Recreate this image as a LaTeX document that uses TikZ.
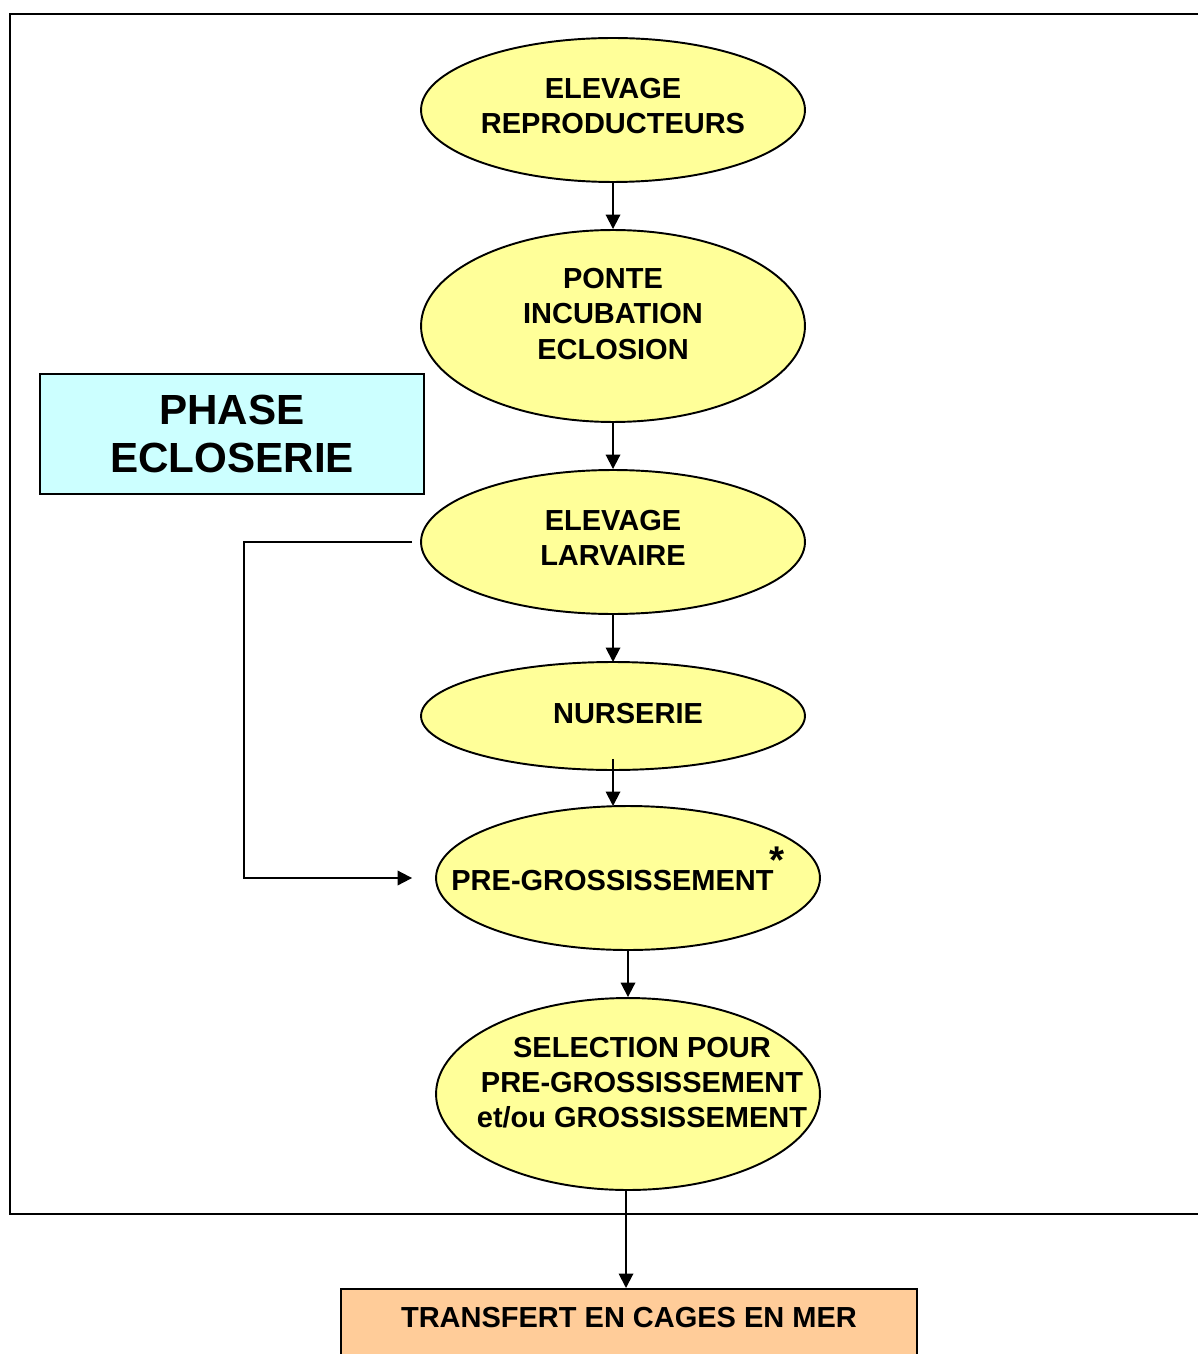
\documentclass[tikz,border=0pt]{standalone}
\usepackage{fontspec}
\setmainfont{Liberation Sans}
\usepackage{tikz}
\usetikzlibrary{shapes.geometric,arrows.meta}
\definecolor{stageYellow}{RGB}{255,255,153}
\definecolor{phaseCyan}{RGB}{204,255,255}
\definecolor{transferOrange}{RGB}{255,204,153}
\newcommand{\stageFont}{\bfseries\fontsize{16.5}{20}\selectfont}
\newcommand{\phaseFont}{\bfseries\fontsize{24}{27.5}\selectfont}
\tikzstyle{stageStyle} = [ellipse, draw, line width=1.1pt, fill=stageYellow, minimum width=7.68cm, inner sep=0pt]
\tikzstyle{stageText} = [align=center, font=\stageFont, inner sep=0pt]
\tikzstyle{phaseStyle} = [draw, line width=0.9pt, fill=phaseCyan, minimum width=7.68cm, minimum height=2.4cm, align=center, font=\phaseFont]
\tikzstyle{transferStyle} = [draw, line width=0.9pt, fill=transferOrange, minimum width=11.52cm, inner ysep=0.36cm, text depth=2cm, anchor=north, font=\stageFont]
\tikzstyle{flow} = [line width=1.1pt, -{Triangle[length=2.9mm,width=2.9mm]}]
\newcommand{\stageEllipse}[5]{\node [stageStyle, minimum height=#3, label={[stageText, xshift=#4, yshift=#5]center:#2}] (#1)}

\begin{document}
\begin{tikzpicture}[x=0.02cm, y=-0.02cm]
  \clip (0,0) rectangle (1198,1354);
  % hatchery frame
  \draw [line width=1.1pt] (1198,14) -- (10,14) -- (10,1214) -- (1198,1214);

  \node [phaseStyle] (phase) at (232,434) {PHASE\\ECLOSERIE};

  \stageEllipse{reproducteurs}{ELEVAGE\\REPRODUCTEURS}{2.88cm}{0cm}{0.08cm} at (613,110) {};
  \stageEllipse{ponte}{PONTE\\INCUBATION\\ECLOSION}{3.84cm}{0cm}{0.24cm} at (613,326) {};
  \stageEllipse{larvaire}{ELEVAGE\\LARVAIRE}{2.88cm}{0cm}{0.08cm} at (613,542) {};
  \stageEllipse{nurserie}{NURSERIE}{2.16cm}{0.3cm}{0.04cm} at (613,716) {};
  \stageEllipse{pregros}{PRE-GROSSISSEMENT\hspace{-0.08cm}\smash{\raisebox{0.6em}{\fontsize{22}{22}\selectfont *}}}{2.88cm}{-0.2cm}{-0.06cm} at (628,878) {};
  \stageEllipse{selection}{SELECTION POUR\\PRE-GROSSISSEMENT\\et/ou GROSSISSEMENT}{3.84cm}{0.28cm}{0.22cm} at (628,1094) {};

  \node [transferStyle] (transfert) at (629,1288) {TRANSFERT EN CAGES EN MER};

  % main chain
  \draw [flow] (reproducteurs.south) -- (ponte.north);
  \draw [flow] (ponte.south) -- (larvaire.north);
  \draw [flow] (larvaire.south) -- (nurserie.south |- {(0,662)});
  \draw [flow] ([yshift=0.24cm]nurserie.south) -- (nurserie.south |- {(0,806)});
  \draw [flow] (pregros.south) -- (selection.north);
  \draw [flow] ([xshift=-0.04cm]selection.south) -- ([xshift=-0.04cm]selection.south |- transfert.north);

  % bypass of the nursery
  \draw [flow] ([xshift=-0.16cm]larvaire.west) -- ++(-168,0) |- ([xshift=-0.46cm]pregros.west);
\end{tikzpicture}
\end{document}
